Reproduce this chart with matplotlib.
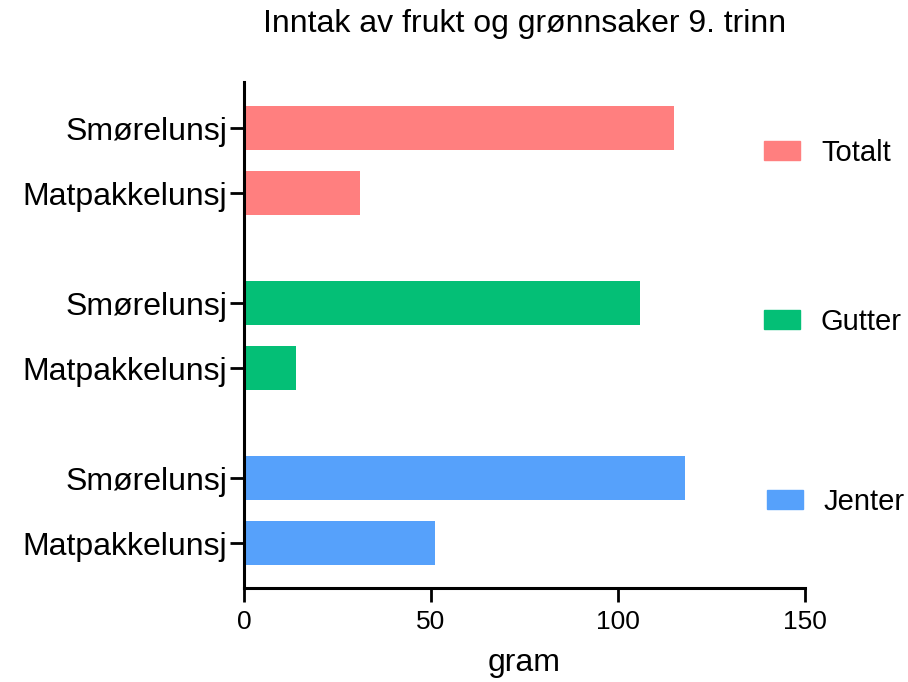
import matplotlib
matplotlib.use("Agg")
import matplotlib.pyplot as plt
import numpy as np
from matplotlib.patches import Patch

plt.rcParams['font.family'] = ['Liberation Sans', 'DejaVu Sans']

# data
groups = ['Totalt', 'Gutter', 'Jenter']
meals = ['Smørelunsj', 'Matpakkelunsj']
smore = [115, 106, 118]
matpakke = [31, 14, 51]
colors = ['#FF7F7F', '#04BF76', '#56A1FB']

fig = plt.figure(figsize=(9.08, 6.82), dpi=100)
ax = fig.add_axes([244 / 908, 1 - 588 / 682, (805 - 244) / 908, (588 - 82) / 682])

# layout: bar pair spacing 1, group spacing 2.69
gap = 2.69
first = 0.71
height = 0.68
ticks = []
labels = []
for g in range(len(groups)):
    y0 = first + gap * g
    ax.barh(y0, smore[g], height=height, color=colors[g])
    ax.barh(y0 + 1, matpakke[g], height=height, color=colors[g])
    ticks += [y0, y0 + 1]
    labels += meals

ax.set_ylim(7.78, 0)
ax.set_xlim(0, 150)
ax.set_yticks(ticks)
ax.set_yticklabels(labels, fontsize=23)
ax.set_xticks([0, 50, 100, 150])
ax.tick_params(axis='x', labelsize=19, length=10, width=2, pad=6)
ax.tick_params(axis='y', length=10, width=2, pad=2)
ax.spines['top'].set_visible(False)
ax.spines['right'].set_visible(False)
for s in ['left', 'bottom']:
    ax.spines[s].set_linewidth(2.2)
ax.set_xlabel('gram', fontsize=23, labelpad=10)

fig.text(525 / 908, 1 - 24 / 682, 'Inntak av frukt og grønnsaker 9. trinn',
         ha='center', va='center', fontsize=23)

# one legend entry per group, next to each group
leg_y = [153, 322, 502]
leg_x = [764, 764, 767]
for g in range(len(groups)):
    leg = fig.legend(handles=[Patch(color=colors[g], label=groups[g])],
                     loc='center left',
                     bbox_to_anchor=(leg_x[g] / 908, 1 - leg_y[g] / 682),
                     frameon=False, fontsize=21, borderpad=0, borderaxespad=0,
                     handlelength=1.25, handleheight=0.6, handletextpad=0.7)

fig.savefig('out.png', dpi=100)
